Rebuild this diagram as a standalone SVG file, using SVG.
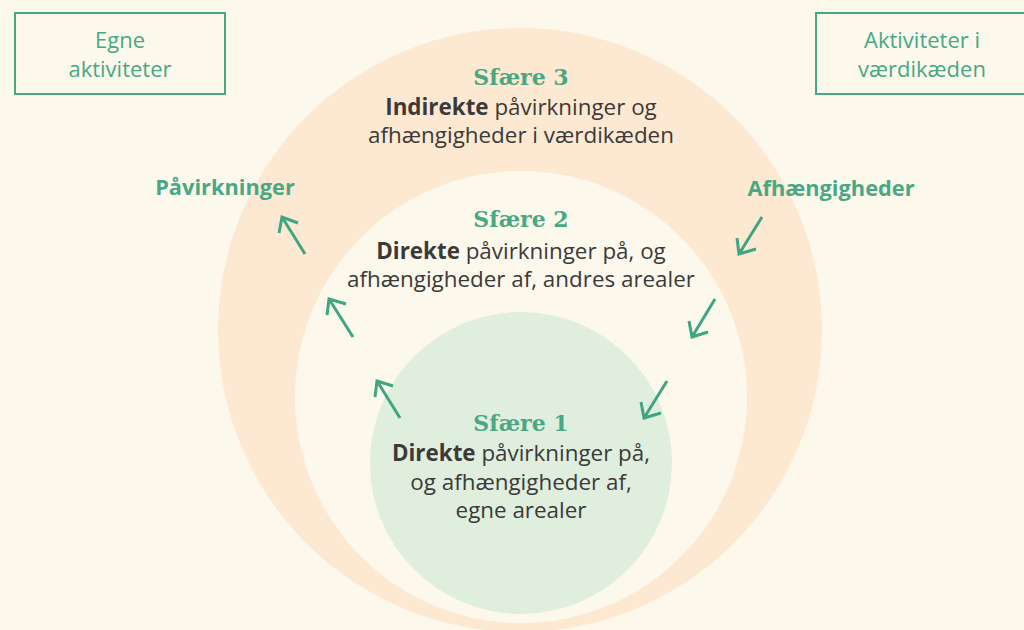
<svg xmlns="http://www.w3.org/2000/svg" width="1024" height="630" viewBox="0 0 1024 630">
<style>
.box{fill:none;stroke:#48a886;stroke-width:2}
.lbl{font-family:"Open Sans","Liberation Sans",sans-serif;font-size:22px;fill:#48a886;text-anchor:middle}
.side{font-family:"Open Sans","Liberation Sans",sans-serif;font-size:21.8px;font-weight:bold;fill:#48a886;text-anchor:middle}
.title{font-family:"DejaVu Serif","Liberation Serif",serif;font-size:22px;font-weight:bold;fill:#48a886;text-anchor:middle}
.body{font-family:"Open Sans","Liberation Sans",sans-serif;font-size:22.4px;fill:#3a3a3a;text-anchor:middle}
.b{font-weight:bold}
.arr{fill:none;stroke:#3fa583;stroke-width:3;stroke-linecap:butt;stroke-linejoin:miter}
</style>
<rect width="1024" height="630" fill="#fdf8ec"/>
<g id="sphere3">
<circle cx="520" cy="330" r="302" fill="#fde9d1"/>
<text class="title" x="521" y="85">Sfære 3</text>
<text class="body" x="521" y="115"><tspan class="b">Indirekte</tspan> påvirkninger og</text>
<text class="body" x="521" y="143">afhængigheder i værdikæden</text>
</g>
<g id="sphere2">
<circle cx="521" cy="397" r="226" fill="#fdf8ec"/>
<text class="title" x="521" y="227">Sfære 2</text>
<text class="body" x="521" y="259"><tspan class="b">Direkte</tspan> påvirkninger på, og</text>
<text class="body" x="521" y="287">afhængigheder af, andres arealer</text>
</g>
<g id="sphere1">
<circle cx="521" cy="463" r="151" fill="#e0eedd"/>
<text class="title" x="521" y="431">Sfære 1</text>
<text class="body" x="521" y="461"><tspan class="b">Direkte</tspan> påvirkninger på,</text>
<text class="body" x="521" y="490">og afhængigheder af,</text>
<text class="body" x="521" y="518">egne arealer</text>
</g>
<g id="box-egne">
<rect class="box" x="15" y="13" width="210" height="81"/>
<text class="lbl" x="120" y="48">Egne</text>
<text class="lbl" x="120" y="77">aktiviteter</text>
</g>
<g id="box-vaerdikaeden">
<rect class="box" x="816" y="13" width="212" height="81"/>
<text class="lbl" x="922" y="48">Aktiviteter i</text>
<text class="lbl" x="922" y="77">værdikæden</text>
</g>
<g id="label-paavirkninger">
<text class="side" x="225" y="195">Påvirkninger</text>
</g>
<g id="label-afhaengigheder">
<text class="side" x="831" y="196">Afhængigheder</text>
</g>
<g id="connectors">
<path class="arr" d="M305,254 L282,217 M279,233 L282,217 L298,223"/>
<path class="arr" d="M353,337 L329,299 M327,315 L329,299 L346,304"/>
<path class="arr" d="M400,418 L377,381 M375,397 L377,381 L393,386"/>
<path class="arr" d="M762,217 L739,254 M737,238 L739,254 L756,249"/>
<path class="arr" d="M715,299 L692,337 M689,321 L692,337 L708,332"/>
<path class="arr" d="M667,381 L644,418 M641,402 L644,418 L661,413"/>
</g>
</svg>
